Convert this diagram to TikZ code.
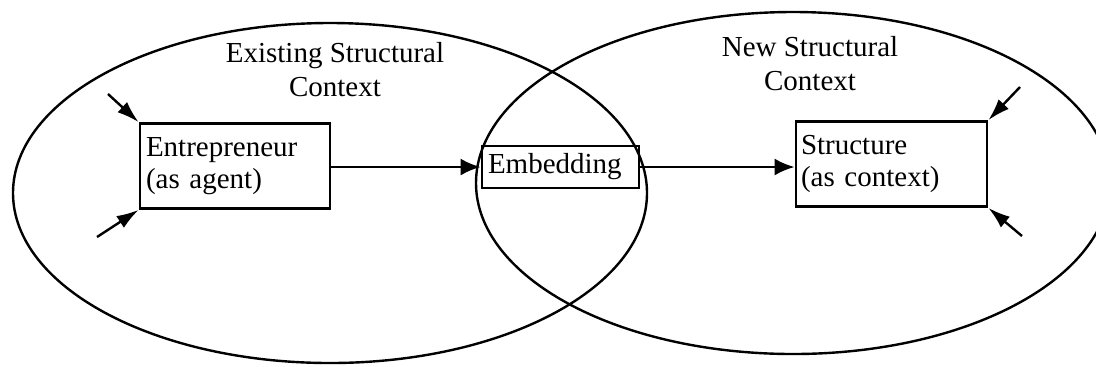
\documentclass[tikz,border=0pt]{standalone}
\usepackage{fontspec}
\setmainfont{Liberation Serif}
\usetikzlibrary{arrows.meta}

\begin{document}
\begin{tikzpicture}[
  x=0.5pt, y=-0.5pt,
  every node/.style={font=\fontsize{14.5}{16}\selectfont},
  contextline/.style={line width=1.2pt},
  stagebox/.style={draw, line width=1.4pt, rectangle, align=left,
    inner xsep=3pt, inner ysep=0pt},
  heading/.style={align=center, inner sep=0pt, anchor=north,
    font=\fontsize{14.5}{17}\selectfont},
  flow/.style={line width=1.3pt, -{Latex[length=10pt,width=8.5pt]}},
  influence/.style={line width=1.2pt, -{Latex[length=11pt,width=7pt]}}
]
  \clip (0,0) rectangle (1096,366);

  % the two structural contexts
  \draw[contextline] (330,193) ellipse [x radius=158.5pt, y radius=85pt];
  \draw[contextline] (793,183) ellipse [x radius=158.5pt, y radius=85.5pt];

  \node[heading] (oldctx) at (335,42) {Existing Structural\\Context};
  \node[heading] (newctx) at (810,36) {New Structural\\Context};

  % stages
  \node[stagebox, text width=89pt, minimum height=42.5pt] (ent)
    at (235,166) {Entrepreneur\\(as agent)};
  \node[stagebox, text width=72.5pt, minimum height=21pt] (emb)
    at (560.5,167) {Embedding};
  \node[stagebox, text width=90.5pt, minimum height=42.5pt, inner xsep=2.5pt] (str)
    at (891.5,164) {Structure\\(as context)};

  \draw[flow] (ent.east |- emb.west) -- (emb.west);
  \draw[flow] (emb.east) -- (emb.east -| str.west);

  % outside influences
  \coordinate (inA) at (108,94);
  \coordinate (inB) at (97,237);
  \coordinate (inC) at (1020,87);
  \coordinate (inD) at (1022,236);
  \draw[influence] (inA) -- (ent.north west);
  \draw[influence] (inB) -- (ent.south west);
  \draw[influence] (inC) -- (str.north east);
  \draw[influence] (inD) -- (str.south east);
\end{tikzpicture}
\end{document}
